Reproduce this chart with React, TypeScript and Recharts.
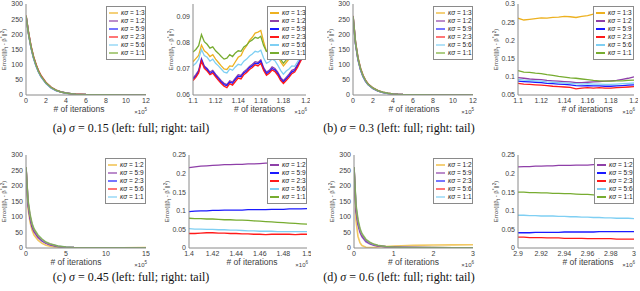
import React from 'react';
import { LineChart, Line, XAxis, YAxis, Legend } from 'recharts';

// ---------- colours ----------
const ORANGE = '#EDB120';
const PURPLE = '#8E3FA8';
const BLUE = '#1A1AFF';
const RED = '#FF1A1A';
const LIGHT = '#7FCFF3';
const GREEN = '#77AC30';

// ---------- tick labels ----------
const fullYTicks = [0, 50, 100, 150, 200, 250, 300];
const abFullXTicks = [0, 2, 4, 6, 8, 10, 12];
const cFullXTicks = [0, 5, 10, 15];
const dFullXTicks = [0, 1, 2, 3];
const abTailXTicks = [1.1, 1.12, 1.14, 1.16, 1.18, 1.2];
const cTailXTicks = [1.4, 1.42, 1.44, 1.46, 1.48, 1.5];
const dTailXTicks = [2.9, 2.92, 2.94, 2.96, 2.98, 3];
const aTailYTicks = [0.06, 0.07, 0.08, 0.09];
const bTailYTicks = [0.05, 0.1, 0.15, 0.2, 0.25, 0.3];
const cdTailYTicks = [0, 0.05, 0.1, 0.15, 0.2, 0.25];

// ---------- categories / legend labels ----------
const topRatios = ['1:3', '1:2', '5:9', '2:3', '5:6', '1:1'];
const bottomRatios = ['1:2', '5:9', '2:3', '5:6', '1:1'];

// ---------- (a) sigma = 0.15, full (x in 1e5) ----------
const aFullX = [0, 0.25, 0.5, 0.75, 1, 1.25, 1.5, 2, 2.5, 3, 3.5, 4, 4.5, 5, 6, 7, 8, 10, 12];
const aFullK13 = [262, 205, 160, 126, 100, 79, 63, 40, 25, 16, 10, 6.5, 4.2, 2.8, 1.3, 0.7, 0.4, 0.2, 0.1];
const aFullK12 = [261, 204, 158, 124, 98, 78, 62, 39, 25, 16, 10, 6.4, 4.1, 2.7, 1.2, 0.6, 0.3, 0.2, 0.1];
const aFullK59 = [260, 203, 157, 123, 97, 77, 61, 39, 24, 15, 9.8, 6.3, 4.0, 2.6, 1.2, 0.6, 0.3, 0.2, 0.1];
const aFullK23 = [262, 206, 161, 127, 101, 80, 64, 41, 26, 16, 10, 6.6, 4.3, 2.8, 1.3, 0.7, 0.4, 0.2, 0.1];
const aFullK56 = [260, 202, 156, 122, 96, 76, 60, 38, 24, 15, 9.6, 6.2, 4.0, 2.6, 1.2, 0.6, 0.3, 0.2, 0.1];
const aFullK11 = [261, 204, 159, 125, 99, 78, 62, 40, 25, 16, 10, 6.4, 4.2, 2.7, 1.3, 0.7, 0.4, 0.2, 0.1];

// ---------- (a) tail (x in 1e6) ----------
const aTailX = [1.1, 1.1025, 1.105, 1.1075, 1.11, 1.1125, 1.115, 1.1175, 1.12, 1.1225, 1.125, 1.1275, 1.13, 1.1325, 1.135, 1.1375, 1.14, 1.1425, 1.145, 1.1475, 1.15, 1.1525, 1.155, 1.1575, 1.16, 1.1625, 1.165, 1.1675, 1.17, 1.1725, 1.175, 1.1775, 1.18, 1.1825, 1.185, 1.1875, 1.19, 1.1925, 1.195, 1.1975, 1.2];
const aTailK13 = [0.0728, 0.0740, 0.0752, 0.0792, 0.0770, 0.0762, 0.0748, 0.0755, 0.0738, 0.0725, 0.0712, 0.0700, 0.0698, 0.0712, 0.0710, 0.0728, 0.0745, 0.0752, 0.0775, 0.0790, 0.0810, 0.0822, 0.0838, 0.0842, 0.0848, 0.0805, 0.0768, 0.0765, 0.0775, 0.0770, 0.0752, 0.0728, 0.0712, 0.0725, 0.0738, 0.0752, 0.0765, 0.0778, 0.0795, 0.0872, 0.0910];
const aTailK12 = [0.0665, 0.0678, 0.0695, 0.0740, 0.0712, 0.0702, 0.0688, 0.0695, 0.0680, 0.0668, 0.0655, 0.0645, 0.0640, 0.0655, 0.0650, 0.0665, 0.0678, 0.0675, 0.0690, 0.0698, 0.0710, 0.0718, 0.0728, 0.0725, 0.0735, 0.0705, 0.0688, 0.0695, 0.0708, 0.0702, 0.0688, 0.0668, 0.0655, 0.0668, 0.0680, 0.0695, 0.0700, 0.0718, 0.0738, 0.0758, 0.0768];
const aTailK59 = [0.0660, 0.0672, 0.0690, 0.0735, 0.0708, 0.0698, 0.0682, 0.0690, 0.0675, 0.0662, 0.0650, 0.0640, 0.0636, 0.0650, 0.0645, 0.0660, 0.0672, 0.0670, 0.0685, 0.0692, 0.0705, 0.0712, 0.0722, 0.0720, 0.0730, 0.0700, 0.0682, 0.0690, 0.0702, 0.0696, 0.0682, 0.0662, 0.0650, 0.0662, 0.0674, 0.0688, 0.0694, 0.0712, 0.0732, 0.0752, 0.0765];
const aTailK23 = [0.0655, 0.0668, 0.0685, 0.0730, 0.0702, 0.0692, 0.0678, 0.0684, 0.0670, 0.0656, 0.0644, 0.0634, 0.0628, 0.0644, 0.0638, 0.0652, 0.0665, 0.0662, 0.0678, 0.0686, 0.0698, 0.0706, 0.0716, 0.0712, 0.0722, 0.0694, 0.0676, 0.0684, 0.0696, 0.0690, 0.0676, 0.0656, 0.0644, 0.0656, 0.0668, 0.0682, 0.0688, 0.0706, 0.0728, 0.0748, 0.0762];
const aTailK56 = [0.0712, 0.0722, 0.0738, 0.0775, 0.0752, 0.0745, 0.0730, 0.0738, 0.0722, 0.0712, 0.0700, 0.0688, 0.0685, 0.0700, 0.0695, 0.0708, 0.0718, 0.0715, 0.0730, 0.0738, 0.0750, 0.0758, 0.0768, 0.0765, 0.0772, 0.0742, 0.0722, 0.0728, 0.0738, 0.0732, 0.0715, 0.0695, 0.0680, 0.0692, 0.0700, 0.0712, 0.0710, 0.0728, 0.0745, 0.0765, 0.0775];
const aTailK11 = [0.0765, 0.0775, 0.0790, 0.0832, 0.0805, 0.0795, 0.0780, 0.0785, 0.0770, 0.0760, 0.0748, 0.0738, 0.0742, 0.0755, 0.0748, 0.0762, 0.0770, 0.0768, 0.0785, 0.0792, 0.0805, 0.0812, 0.0822, 0.0818, 0.0826, 0.0790, 0.0768, 0.0772, 0.0782, 0.0775, 0.0760, 0.0738, 0.0722, 0.0735, 0.0742, 0.0752, 0.0748, 0.0765, 0.0778, 0.0792, 0.0800];

// ---------- (b) sigma = 0.3, full (x in 1e5) ----------
const bFullX = [0, 0.25, 0.5, 0.75, 1, 1.25, 1.5, 2, 2.5, 3, 3.5, 4, 4.5, 5, 6, 7, 8, 10, 12];
const bFullK13 = [260, 172, 120, 86, 63, 47, 36, 22, 14, 9, 5.5, 3.4, 2.1, 1.3, 0.6, 0.4, 0.3, 0.3, 0.3];
const bFullK12 = [259, 170, 118, 84, 62, 46, 35, 22, 13, 8.5, 5.3, 3.3, 2, 1.2, 0.5, 0.3, 0.2, 0.2, 0.2];
const bFullK59 = [258, 169, 117, 84, 61, 46, 35, 21, 13, 8.4, 5.2, 3.2, 2, 1.2, 0.5, 0.3, 0.2, 0.2, 0.2];
const bFullK23 = [261, 174, 122, 88, 65, 49, 37, 23, 14, 9.2, 5.7, 3.5, 2.2, 1.3, 0.6, 0.3, 0.2, 0.2, 0.2];
const bFullK56 = [259, 171, 119, 85, 62, 47, 35, 22, 13, 8.6, 5.4, 3.3, 2.1, 1.3, 0.5, 0.3, 0.2, 0.2, 0.2];
const bFullK11 = [260, 173, 121, 87, 64, 48, 36, 23, 14, 9, 5.6, 3.4, 2.1, 1.3, 0.6, 0.3, 0.2, 0.2, 0.2];

// ---------- (b) tail (x in 1e6) ----------
const bTailX = [1.1, 1.105, 1.11, 1.115, 1.12, 1.125, 1.13, 1.135, 1.14, 1.145, 1.15, 1.155, 1.16, 1.165, 1.17, 1.175, 1.18, 1.185, 1.19, 1.195, 1.2];
const bTailK13 = [0.261, 0.256, 0.258, 0.260, 0.262, 0.261, 0.263, 0.264, 0.266, 0.265, 0.263, 0.266, 0.268, 0.272, 0.276, 0.273, 0.272, 0.274, 0.275, 0.280, 0.292];
const bTailK12 = [0.098, 0.096, 0.094, 0.093, 0.092, 0.090, 0.089, 0.088, 0.087, 0.086, 0.084, 0.084, 0.085, 0.086, 0.087, 0.088, 0.089, 0.090, 0.093, 0.096, 0.100];
const bTailK59 = [0.088, 0.087, 0.086, 0.085, 0.084, 0.082, 0.081, 0.080, 0.079, 0.078, 0.076, 0.075, 0.076, 0.075, 0.075, 0.074, 0.074, 0.075, 0.076, 0.077, 0.078];
const bTailK23 = [0.082, 0.080, 0.079, 0.078, 0.077, 0.076, 0.074, 0.073, 0.072, 0.071, 0.067, 0.069, 0.070, 0.069, 0.070, 0.069, 0.069, 0.070, 0.071, 0.072, 0.073];
const bTailK56 = [0.093, 0.091, 0.090, 0.089, 0.088, 0.086, 0.085, 0.084, 0.083, 0.082, 0.081, 0.080, 0.081, 0.080, 0.080, 0.079, 0.079, 0.080, 0.081, 0.082, 0.083];
const bTailK11 = [0.117, 0.113, 0.112, 0.110, 0.109, 0.106, 0.104, 0.101, 0.099, 0.097, 0.096, 0.094, 0.092, 0.090, 0.089, 0.088, 0.088, 0.089, 0.089, 0.090, 0.091];

// ---------- (c) sigma = 0.45, full (x in 1e5) ----------
const cFullX = [0, 0.25, 0.5, 0.75, 1, 1.5, 2, 2.5, 3, 4, 5, 6, 8, 10, 12, 15];
const cFullK12 = [258, 128, 84, 58, 42, 25, 15, 9, 5.5, 2, 0.8, 0.4, 0.5, 0.7, 0.9, 1.1];
const cFullK59 = [259, 140, 95, 68, 52, 33, 22, 15, 10, 4.6, 2.2, 1.1, 0.5, 0.3, 0.3, 0.3];
const cFullK23 = [259, 145, 100, 72, 55, 36, 24, 16, 11, 5, 2.4, 1.2, 0.5, 0.3, 0.3, 0.3];
const cFullK56 = [260, 148, 103, 75, 58, 38, 26, 17, 12, 5.5, 2.6, 1.3, 0.5, 0.3, 0.3, 0.3];
const cFullK11 = [260, 150, 105, 77, 60, 40, 27, 18, 13, 6, 2.9, 1.4, 0.6, 0.3, 0.3, 0.3];
const cFullExtra = [261, 155, 110, 80, 62, 42, 29, 19, 13.5, 6.2, 3, 1.5, 0.6, 0.3, 0.3, 0.3];

// ---------- (c) tail (x in 1e6) ----------
const cTailX = [1.4, 1.405, 1.41, 1.415, 1.42, 1.425, 1.43, 1.435, 1.44, 1.445, 1.45, 1.455, 1.46, 1.465, 1.47, 1.475, 1.48, 1.485, 1.49, 1.495, 1.5];
const cTailK12 = [0.216, 0.218, 0.220, 0.221, 0.222, 0.223, 0.224, 0.224, 0.225, 0.225, 0.226, 0.226, 0.227, 0.228, 0.228, 0.229, 0.229, 0.230, 0.231, 0.231, 0.232];
const cTailK59 = [0.098, 0.099, 0.100, 0.100, 0.101, 0.101, 0.102, 0.102, 0.102, 0.102, 0.103, 0.103, 0.103, 0.103, 0.104, 0.104, 0.104, 0.105, 0.105, 0.105, 0.106];
const cTailK23 = [0.039, 0.039, 0.040, 0.041, 0.041, 0.040, 0.040, 0.039, 0.039, 0.038, 0.038, 0.037, 0.037, 0.036, 0.037, 0.037, 0.037, 0.037, 0.036, 0.037, 0.037];
const cTailK56 = [0.052, 0.051, 0.051, 0.050, 0.050, 0.049, 0.049, 0.048, 0.048, 0.047, 0.046, 0.046, 0.045, 0.045, 0.045, 0.044, 0.044, 0.044, 0.044, 0.044, 0.044];
const cTailK11 = [0.080, 0.079, 0.079, 0.078, 0.078, 0.077, 0.076, 0.076, 0.075, 0.075, 0.074, 0.073, 0.072, 0.071, 0.070, 0.069, 0.068, 0.067, 0.066, 0.065, 0.064];

// ---------- (d) sigma = 0.6, full (x in 1e6) ----------
const dFullX = [0, 0.05, 0.1, 0.15, 0.2, 0.3, 0.4, 0.5, 0.6, 0.8, 1, 1.2, 1.5, 2, 2.5, 3];
const dFullK12 = [258, 88, 38, 17, 8, 2.5, 1.5, 2, 3, 5, 6.5, 7.5, 8.5, 9.5, 10, 10.5];
const dFullK59 = [259, 120, 75, 50, 36, 20, 13, 9, 6.5, 3.8, 2.5, 1.8, 1.3, 1, 0.8, 0.7];
const dFullK23 = [259, 125, 80, 55, 40, 23, 15, 10, 7, 4, 2.7, 1.9, 1.4, 1, 0.8, 0.7];
const dFullK56 = [260, 130, 85, 58, 42, 25, 16, 11, 7.5, 4.3, 2.9, 2, 1.5, 1.1, 0.9, 0.8];
const dFullK11 = [260, 135, 88, 60, 44, 26, 17, 11.5, 8, 4.6, 3, 2.1, 1.6, 1.1, 0.9, 0.8];
const dFullExtra = [261, 140, 92, 64, 47, 28, 18.5, 12.5, 8.6, 5, 3.2, 2.2, 1.7, 1.2, 1, 0.9];

// ---------- (d) tail (x in 1e6) ----------
const dTailX = [2.9, 2.905, 2.91, 2.915, 2.92, 2.925, 2.93, 2.935, 2.94, 2.945, 2.95, 2.955, 2.96, 2.965, 2.97, 2.975, 2.98, 2.985, 2.99, 2.995, 3];
const dTailK12 = [0.218, 0.219, 0.219, 0.220, 0.220, 0.221, 0.221, 0.222, 0.222, 0.222, 0.223, 0.223, 0.223, 0.224, 0.224, 0.224, 0.224, 0.225, 0.225, 0.225, 0.225];
const dTailK59 = [0.041, 0.041, 0.041, 0.042, 0.042, 0.042, 0.042, 0.042, 0.043, 0.043, 0.043, 0.043, 0.043, 0.043, 0.044, 0.044, 0.044, 0.044, 0.044, 0.044, 0.044];
const dTailK23 = [0.029, 0.029, 0.028, 0.028, 0.028, 0.027, 0.027, 0.027, 0.026, 0.026, 0.026, 0.026, 0.025, 0.025, 0.025, 0.025, 0.025, 0.024, 0.024, 0.024, 0.024];
const dTailK56 = [0.088, 0.088, 0.087, 0.087, 0.086, 0.086, 0.086, 0.085, 0.085, 0.084, 0.084, 0.083, 0.083, 0.082, 0.082, 0.081, 0.081, 0.080, 0.080, 0.080, 0.079];
const dTailK11 = [0.150, 0.150, 0.149, 0.149, 0.148, 0.148, 0.147, 0.147, 0.146, 0.146, 0.145, 0.144, 0.144, 0.143, 0.142, 0.141, 0.140, 0.140, 0.139, 0.138, 0.137];

// ---------- captions ----------
const captions = [
  { tag: '(a)', sigma: '0.15' },
  { tag: '(b)', sigma: '0.3' },
  { tag: '(c)', sigma: '0.45' },
  { tag: '(d)', sigma: '0.6' },
];

const SANS = '"Liberation Sans", Arial, sans-serif';
const AXIS = '#8a8a8a';
const TICK = '#404040';

type Series = { label?: string; color: string; values: number[] };

type PanelProps = {
  chartTop: number;
  plotTop: number;
  plotLeft: number;
  plotW: number;
  plotH: number;
  x: number[];
  series: Series[];
  xDomain: [number, number];
  xTicks: number[];
  yDomain: [number, number];
  yTicks: number[];
  exp: string;
  xLabelDx: number;
  legendX: number;
  legendY: number;
  legendW: number;
  faded: boolean;
};

function LegendBox({ items, faded }: { items: Series[]; faded: boolean }) {
  return (
    <div
      style={{
        border: '1px solid #8a8a8a',
        background: '#fff',
        padding: '2px 2px',
        fontFamily: SANS,
        fontSize: 6.5,
        lineHeight: '8px',
        color: '#222',
        boxSizing: 'border-box',
        width: '100%',
      }}
    >
      {items.map((it, i) => (
        <div key={i} style={{ display: 'flex', alignItems: 'center', height: 8, whiteSpace: 'nowrap' }}>
          <span
            style={{
              display: 'inline-block',
              width: 9,
              height: 2,
              background: it.color,
              opacity: faded ? 0.6 : 1,
              marginRight: 3,
              flex: 'none',
            }}
          />
          <span>
            <i>κσ</i> = {it.label}
          </span>
        </div>
      ))}
    </div>
  );
}

function Panel(p: PanelProps) {
  const yW = 26;
  const mr = 4;
  const xH = 24;
  const chartLeft = p.plotLeft - yW;
  const mt = p.plotTop - p.chartTop;
  const width = yW + p.plotW + mr;
  const height = mt + p.plotH + xH;
  const data = p.x.map((xv, i) => {
    const row: Record<string, number> = { x: xv };
    p.series.forEach((s, j) => {
      row['s' + j] = s.values[i];
    });
    return row;
  });
  const px0 = yW;
  const py0 = mt;
  const tickStyle = { fontSize: 7, fill: TICK, fontFamily: SANS };

  const xLabel = () => (
    <g>
      <text
        x={px0 + p.plotW / 2 + p.xLabelDx}
        y={py0 + p.plotH + 14}
        textAnchor="middle"
        dominantBaseline="central"
        fontSize={8.5}
        fill={TICK}
        fontFamily={SANS}
      >
        # of iterations
      </text>
      <text
        x={px0 + p.plotW + 1}
        y={py0 + p.plotH + 17}
        textAnchor="end"
        dominantBaseline="central"
        fontSize={6}
        fill={TICK}
        fontFamily={SANS}
      >
        ×10
        <tspan dy={-3} fontSize={4.5}>
          {p.exp}
        </tspan>
      </text>
    </g>
  );

  const yLabel = () => {
    const cx = px0 - 22;
    const cy = py0 + p.plotH / 2;
    return (
      <text
        transform={`translate(${cx},${cy}) rotate(-90)`}
        textAnchor="middle"
        dominantBaseline="central"
        fontSize={6}
        fill={TICK}
        fontFamily={SANS}
      >
        Error(||β
        <tspan dy={1.5} fontSize={4.5}>
          t
        </tspan>
        <tspan dy={-1.5}> - β</tspan>
        <tspan dy={-2} fontSize={4.5}>
          *
        </tspan>
        <tspan dy={2}>||</tspan>
        <tspan dy={-2} fontSize={4.5}>
          2
        </tspan>
        <tspan dy={2}>)</tspan>
      </text>
    );
  };

  const legendItems = p.series.filter((s) => s.label);

  return (
    <div style={{ position: 'absolute', left: chartLeft, top: p.chartTop }}>
      <LineChart width={width} height={height} data={data} margin={{ top: mt, right: mr, bottom: 0, left: 0 }}>
        <XAxis
          dataKey="x"
          type="number"
          domain={p.xDomain}
          ticks={p.xTicks}
          interval={0}
          height={xH}
          tickLine={false}
          tickSize={2}
          tickMargin={1.5}
          stroke={AXIS}
          tick={tickStyle}
          allowDataOverflow
          label={xLabel}
        />
        <XAxis
          xAxisId="top"
          orientation="top"
          type="number"
          domain={p.xDomain}
          height={0}
          tick={false}
          tickLine={false}
          stroke={AXIS}
        />
        <YAxis
          type="number"
          domain={p.yDomain}
          ticks={p.yTicks}
          interval={0}
          width={yW}
          tickLine={false}
          tickSize={2}
          tickMargin={1}
          stroke={AXIS}
          tick={tickStyle}
          allowDataOverflow
          label={yLabel}
        />
        <YAxis
          yAxisId="right"
          orientation="right"
          type="number"
          domain={p.yDomain}
          width={0}
          tick={false}
          tickLine={false}
          stroke={AXIS}
        />
        <Legend
          layout="vertical"
          align="center"
          verticalAlign="middle"
          wrapperStyle={{ left: p.legendX - chartLeft, top: p.legendY - p.chartTop, width: p.legendW }}
          content={() => <LegendBox items={legendItems} faded={p.faded} />}
        />
        {p.series.map((s, j) => (
          <Line
            key={j}
            type="linear"
            dataKey={'s' + j}
            stroke={s.color}
            strokeOpacity={p.faded ? 0.7 : 1}
            strokeWidth={p.faded ? 1.6 : 1.3}
            dot={false}
            activeDot={false}
            isAnimationActive={false}
            legendType={s.label ? 'line' : 'none'}
          />
        ))}
      </LineChart>
    </div>
  );
}

const topColors = [ORANGE, PURPLE, BLUE, RED, LIGHT, GREEN];
const bottomLeftColors = [ORANGE, PURPLE, BLUE, RED, LIGHT];
const bottomRightColors = [PURPLE, BLUE, RED, LIGHT, GREEN];

function mk(labels: string[], colors: string[], values: number[][]): Series[] {
  return values.map((v, i) => ({ label: labels[i], color: colors[i] ?? GREEN, values: v }));
}

function Caption({ tag, sigma, cx, cy }: { tag: string; sigma: string; cx: number; cy: number }) {
  return (
    <div
      style={{
        position: 'absolute',
        left: cx - 150,
        top: cy - 9,
        width: 300,
        height: 18,
        lineHeight: '18px',
        textAlign: 'center',
        fontFamily: '"Liberation Serif", "Times New Roman", serif',
        fontSize: 12,
        color: '#111',
        whiteSpace: 'nowrap',
      }}
    >
      {tag} <i>σ</i> = {sigma} (left: full; right: tail)
    </div>
  );
}

export default function App() {
  const top = { chartTop: 0, plotTop: 4, plotH: 91 };
  const bot = { chartTop: 140, plotTop: 155, plotH: 93 };
  return (
    <div
      style={{
        position: 'absolute',
        left: 0,
        top: 0,
        width: 640,
        height: 291,
        overflow: 'hidden',
        background: '#fff',
      }}
    >
      <Panel
        {...top}
        plotLeft={26}
        plotW={120}
        x={aFullX}
        series={mk(topRatios, topColors, [aFullK13, aFullK12, aFullK59, aFullK23, aFullK56, aFullK11])}
        xDomain={[0, 12]}
        xTicks={abFullXTicks}
        yDomain={[0, 300]}
        yTicks={fullYTicks}
        exp="5"
        xLabelDx={-7}
        legendX={106}
        legendY={6}
        legendW={40}
        faded
      />
      <Panel
        {...top}
        plotLeft={193}
        plotW={113}
        x={aTailX}
        series={mk(topRatios, topColors, [aTailK13, aTailK12, aTailK59, aTailK23, aTailK56, aTailK11])}
        xDomain={[1.1, 1.2]}
        xTicks={abTailXTicks}
        yDomain={[0.06, 0.095]}
        yTicks={aTailYTicks}
        exp="6"
        xLabelDx={10}
        legendX={267}
        legendY={6}
        legendW={39}
        faded={false}
      />
      <Panel
        {...top}
        plotLeft={353}
        plotW={120}
        x={bFullX}
        series={mk(topRatios, topColors, [bFullK13, bFullK12, bFullK59, bFullK23, bFullK56, bFullK11])}
        xDomain={[0, 12]}
        xTicks={abFullXTicks}
        yDomain={[0, 300]}
        yTicks={fullYTicks}
        exp="5"
        xLabelDx={1}
        legendX={433}
        legendY={6}
        legendW={40}
        faded
      />
      <Panel
        {...top}
        plotLeft={518}
        plotW={116}
        x={bTailX}
        series={mk(topRatios, topColors, [bTailK13, bTailK12, bTailK59, bTailK23, bTailK56, bTailK11])}
        xDomain={[1.1, 1.2]}
        xTicks={abTailXTicks}
        yDomain={[0.05, 0.3]}
        yTicks={bTailYTicks}
        exp="6"
        xLabelDx={11}
        legendX={593}
        legendY={6}
        legendW={41}
        faded={false}
      />
      <Panel
        {...bot}
        plotLeft={26}
        plotW={120}
        x={cFullX}
        series={mk(bottomRatios, bottomLeftColors, [cFullK12, cFullK59, cFullK23, cFullK56, cFullK11, cFullExtra])}
        xDomain={[0, 15]}
        xTicks={cFullXTicks}
        yDomain={[0, 300]}
        yTicks={fullYTicks}
        exp="5"
        xLabelDx={-10}
        legendX={105}
        legendY={158}
        legendW={41}
        faded
      />
      <Panel
        {...bot}
        plotLeft={189}
        plotW={118}
        x={cTailX}
        series={mk(bottomRatios, bottomRightColors, [cTailK12, cTailK59, cTailK23, cTailK56, cTailK11])}
        xDomain={[1.4, 1.5]}
        xTicks={cTailXTicks}
        yDomain={[0, 0.25]}
        yTicks={cdTailYTicks}
        exp="6"
        xLabelDx={4}
        legendX={267}
        legendY={158}
        legendW={40}
        faded={false}
      />
      <Panel
        {...bot}
        plotLeft={354}
        plotW={119}
        x={dFullX}
        series={mk(bottomRatios, bottomLeftColors, [dFullK12, dFullK59, dFullK23, dFullK56, dFullK11, dFullExtra])}
        xDomain={[0, 3]}
        xTicks={dFullXTicks}
        yDomain={[0, 300]}
        yTicks={fullYTicks}
        exp="6"
        xLabelDx={0}
        legendX={433}
        legendY={158}
        legendW={40}
        faded
      />
      <Panel
        {...bot}
        plotLeft={518}
        plotW={116}
        x={dTailX}
        series={mk(bottomRatios, bottomRightColors, [dTailK12, dTailK59, dTailK23, dTailK56, dTailK11])}
        xDomain={[2.9, 3]}
        xTicks={dTailXTicks}
        yDomain={[0, 0.25]}
        yTicks={cdTailYTicks}
        exp="6"
        xLabelDx={12}
        legendX={594}
        legendY={158}
        legendW={40}
        faded={false}
      />
      <Caption tag={captions[0].tag} sigma={captions[0].sigma} cx={131} cy={128} />
      <Caption tag={captions[1].tag} sigma={captions[1].sigma} cx={399} cy={128} />
      <Caption tag={captions[2].tag} sigma={captions[2].sigma} cx={131} cy={277} />
      <Caption tag={captions[3].tag} sigma={captions[3].sigma} cx={399} cy={277} />
    </div>
  );
}
